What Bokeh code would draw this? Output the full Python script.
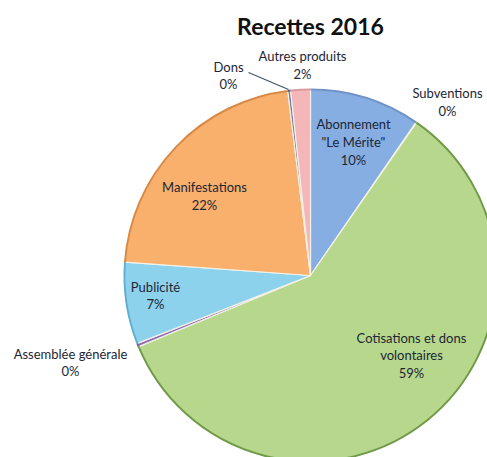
import math
from bokeh.plotting import figure
from bokeh.models import Range1d, ColumnDataSource
from bokeh.core.properties import value
from bokeh.embed import file_html
from bokeh.resources import INLINE

# ---- data ----
title = "Recettes 2016"
categories = ["Abonnement\n\"Le Mérite\"", "Subventions", "Cotisations et dons\nvolontaires",
              "Assemblée générale", "Publicité", "Manifestations", "Dons", "Autres produits"]
values = [9.6, 0.05, 59.1, 0.3, 7.1, 21.9, 0.25, 1.7]
colors = ["#86aee2", "#c9dba0", "#b7d88c", "#8f6fb0", "#8dd2ec", "#f9b06c", "#7d7fa8", "#f4b6b8"]
edge_colors = ["#6f93c8", "#8fb060", "#6f9a48", "#7a5a9a", "#5fb0d0", "#d88a45", "#5e6088", "#d89a9c"]

# ---- layout (pixel space, y measured from top) ----
W, H = 487, 457
cx, cy, r = 310, 275, 186
label_pos = [(353, 141.5), (447, 101.5), (411, 355), (70, 362), (155, 295), (204, 195.5), (228, 75), (302, 64.5)]

total = sum(values)
starts, ends = [], []
acc = 0.0
for v in values:
    a0 = acc / total * 2 * math.pi
    acc += v
    a1 = acc / total * 2 * math.pi
    starts.append(math.pi / 2 - a0)
    ends.append(math.pi / 2 - a1)

labels = []
for c, v in zip(categories, values):
    labels.append(f"{c}\n{round(v)}%")

p = figure(width=W, height=H, output_backend="svg", toolbar_location=None,
           x_range=Range1d(0, W), y_range=Range1d(0, H), min_border=0)
p.axis.visible = False
p.grid.visible = False
p.outline_line_color = None
p.background_fill_color = "white"

src = ColumnDataSource(dict(x=[cx] * len(values), y=[H - cy] * len(values),
                            start=starts, end=ends, color=colors, edge=edge_colors))
p.wedge(x="x", y="y", radius=r, start_angle="start", end_angle="end", direction="clock",
        fill_color="color", line_color="#f3f1e6", line_width=1.2, source=src)
p.arc(x="x", y="y", radius=r, start_angle="start", end_angle="end", direction="clock",
      line_color="edge", line_width=2, source=src)

# leader line for "Dons"
p.line(x=[248, 288], y=[H - 72, H - 89], line_color="#44546a", line_width=1.2)

lx = [pt[0] for pt in label_pos]
ly = [H - pt[1] for pt in label_pos]
p.text(x=lx, y=ly, text=labels, text_align="center", text_baseline="middle",
       text_font=value("Lato"), text_font_size="13px", text_color="#1d2636",
       text_line_height=1.1)

p.text(x=[cx], y=[H - 25], text=[title], text_align="center", text_baseline="middle",
       text_font=value("Lato"), text_font_size="23px", text_font_style="bold",
       text_color="#111111")

open("out.html", "w").write(file_html(p, INLINE))
